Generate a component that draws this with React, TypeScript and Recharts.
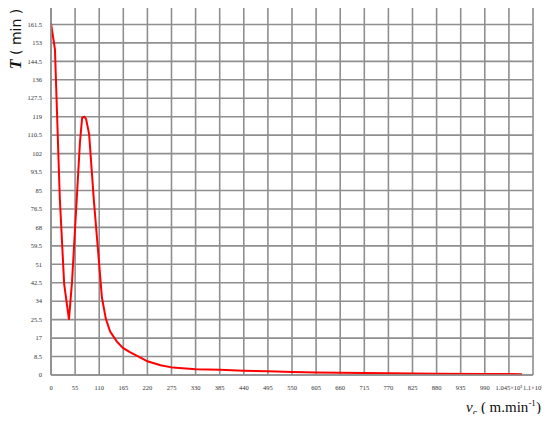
import React from 'react'
import { CartesianGrid, Line, LineChart, XAxis, YAxis } from 'recharts'

// cutting speed v_c (m/min) and tool life T (min)
const speeds = [
  0, 9, 20, 30, 41, 48, 59, 66, 71, 76, 80, 87, 98, 110, 116, 125, 135, 150, 164,
  180, 200, 220, 250, 278, 330, 385, 440, 495, 550, 605, 660, 770, 880, 990, 1075,
]
const toolLife = [
  162, 150, 82, 42, 25.5, 43, 82, 107, 118.5, 119, 118, 111, 80, 51, 36, 26, 20,
  15.5, 12.5, 10.5, 8.5, 6.3, 4.5, 3.4, 2.7, 2.4, 2.0, 1.7, 1.4, 1.2, 1.0, 0.8,
  0.6, 0.5, 0.4,
]

const xTicks = [
  0, 55, 110, 165, 220, 275, 330, 385, 440, 495, 550, 605, 660, 715, 770, 825,
  880, 935, 990, 1045, 1100,
]
const yTicks = [
  0, 8.5, 17, 25.5, 34, 42.5, 51, 59.5, 68, 76.5, 85, 93.5, 102, 110.5, 119,
  127.5, 136, 144.5, 153, 161.5, 170,
]

const data = speeds.map((v, i) => ({ v, T: toolLife[i] }))

const formatX = (t: number) => {
  if (t === 1045) return '1.045×10³'
  if (t === 1100) return '1.1×10³'
  return String(t)
}

const tickStyle = { fontSize: 6.5, fill: '#333', fontFamily: 'Liberation Serif' }
const gridColor = '#8f8f8f'

const YTick = ({ x, y, payload }: any) => (
  <text x={x - 1} y={y} dy={2.2} textAnchor="end" {...tickStyle}>
    {payload.value}
  </text>
)

export default function App() {
  return (
    <div style={{ position: 'relative', width: 550, height: 422, margin: -8, background: '#fff' }}>
      <LineChart
        width={550}
        height={422}
        data={data}
        margin={{ top: 6, right: 17, bottom: 17, left: 0 }}
      >
        <CartesianGrid stroke={gridColor} strokeWidth={1.6} />
        <XAxis
          dataKey="v"
          type="number"
          domain={[0, 1100]}
          ticks={xTicks}
          tickFormatter={formatX}
          interval={0}
          height={30}
          tickLine={false}
          axisLine={{ stroke: gridColor, strokeWidth: 1.6 }}
          tick={tickStyle}
          tickMargin={4}
        />
        <YAxis
          type="number"
          domain={[0, 170]}
          ticks={yTicks}
          interval={0}
          width={51}
          tickLine={false}
          axisLine={{ stroke: gridColor, strokeWidth: 1.6 }}
          tick={<YTick />}
        />
        <Line
          type="linear"
          dataKey="T"
          stroke="#ff0000"
          strokeWidth={2}
          dot={false}
          isAnimationActive={false}
        />
      </LineChart>
      <div
        style={{
          position: 'absolute',
          left: -14,
          top: 30,
          transform: 'rotate(-90deg)',
          fontFamily: 'Liberation Serif',
          fontSize: 16,
          color: '#111',
          whiteSpace: 'nowrap',
        }}
      >
        <i style={{ fontWeight: 'bold' }}>T</i>
        <span style={{ fontFamily: 'DejaVu Sans', fontSize: 14 }}> ( min )</span>
      </div>
      <div
        style={{
          position: 'absolute',
          left: 466,
          top: 398,
          fontFamily: 'Liberation Serif',
          fontSize: 15,
          color: '#111',
          whiteSpace: 'nowrap',
          lineHeight: '18px',
        }}
      >
        <i>v</i>
        <span style={{ fontSize: 10, position: 'relative', top: 4 }}>c</span> ( m.min
        <span style={{ fontSize: 9, position: 'relative', top: -6 }}>-1</span>)
      </div>
    </div>
  )
}
